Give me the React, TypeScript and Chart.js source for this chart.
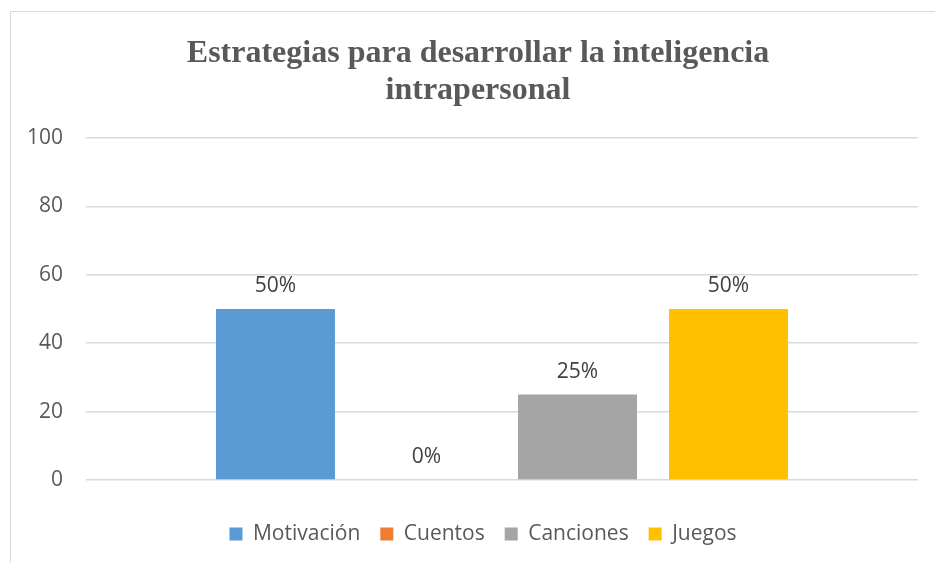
import React, { useEffect, useRef } from "react";
import { Chart, registerables } from "chart.js";

Chart.register(...registerables);

const categories = [""];
const seriesNames = ["Motivación", "Cuentos", "Canciones", "Juegos"];
const seriesValues = [50, 0, 25, 50];
const valueLabels = ["50%", "0%", "25%", "50%"];
const seriesColors = ["#5B9BD5", "#ED7D31", "#A5A5A5", "#FFC000"];
const titleLines = ["Estrategias para desarrollar la inteligencia", "intrapersonal"];
const yMin = 0;
const yMax = 100;
const yStep = 20;

const valueLabelPlugin = {
  id: "valueLabelPlugin",
  afterDatasetsDraw(chart: any) {
    const ctx = chart.ctx;
    ctx.save();
    ctx.font = "21px 'Open Sans'";
    ctx.fillStyle = "#404040";
    ctx.textAlign = "center";
    ctx.textBaseline = "alphabetic";
    chart.data.datasets.forEach((_ds: any, i: number) => {
      const meta = chart.getDatasetMeta(i);
      meta.data.forEach((el: any) => {
        ctx.fillText(valueLabels[i], el.x, el.y - 17);
      });
    });
    ctx.restore();
  },
};

const legendShiftPlugin = {
  id: "legendShiftPlugin",
  afterLayout(chart: any) {
    const lg = chart.legend;
    if (!lg) return;
    lg.left += 5;
    lg.right += 5;
    lg.top += 2;
    lg.bottom += 2;
  },
};

export default function App() {
  const ref = useRef<HTMLCanvasElement | null>(null);

  useEffect(() => {
    if (!ref.current) return;
    const chart = new Chart(ref.current, {
      type: "bar",
      data: {
        labels: categories,
        datasets: seriesNames.map((name, i) => ({
          label: name,
          data: [seriesValues[i]],
          backgroundColor: seriesColors[i],
          borderWidth: 0,
          categoryPercentage: 0.726,
          barPercentage: 0.788,
        })),
      },
      options: {
        responsive: false,
        devicePixelRatio: 1,
        animation: false,
        layout: { padding: { left: 0, right: 0, top: 0, bottom: 18.5 } },
        plugins: {
          tooltip: { enabled: false },
          title: {
            display: true,
            text: titleLines,
            color: "#595959",
            font: { family: "'Liberation Serif'", size: 32, weight: "bold", lineHeight: 1.15 },
            padding: { top: 24.8, bottom: 28.6 },
          },
          legend: {
            display: true,
            position: "bottom",
            labels: {
              color: "#595959",
              font: { family: "'Open Sans'", size: 21 },
              boxWidth: 13,
              boxHeight: 13,
              padding: 20,
            },
          },
        },
        scales: {
          x: {
            type: "category",
            grid: { display: false },
            border: { display: false },
            ticks: { display: false },
            afterFit: (s: any) => {
              s.height = 21.5;
            },
          },
          y: {
            type: "linear",
            position: "left",
            min: yMin,
            max: yMax,
            ticks: {
              stepSize: yStep,
              color: "#595959",
              font: { family: "'Open Sans'", size: 21 },
              padding: 23,
            },
            grid: { color: "#d9d9d9", lineWidth: 1.5, drawTicks: false },
            border: { display: false },
            afterFit: (s: any) => {
              s.width = 76;
            },
          },
          y2: {
            type: "linear",
            position: "right",
            display: true,
            grid: { display: false },
            border: { display: false },
            ticks: { display: false },
            afterFit: (s: any) => {
              s.width = 28;
            },
          },
        },
      },
      plugins: [valueLabelPlugin, legendShiftPlugin],
    } as any);
    return () => chart.destroy();
  }, []);

  return (
    <div
      style={{
        position: "fixed",
        left: 0,
        top: 0,
        width: 935,
        height: 563,
        overflow: "hidden",
        background: "#ffffff",
      }}
    >
      <div
        style={{
          position: "absolute",
          left: 10,
          top: 11,
          width: 1000,
          height: 1000,
          border: "1px solid #d9d9d9",
          boxSizing: "border-box",
        }}
      />
      <div style={{ position: "absolute", left: 10, top: 11, width: 936, height: 560 }}>
        <canvas ref={ref} width={936} height={560} style={{ width: 936, height: 560, display: "block" }} />
      </div>
    </div>
  );
}
